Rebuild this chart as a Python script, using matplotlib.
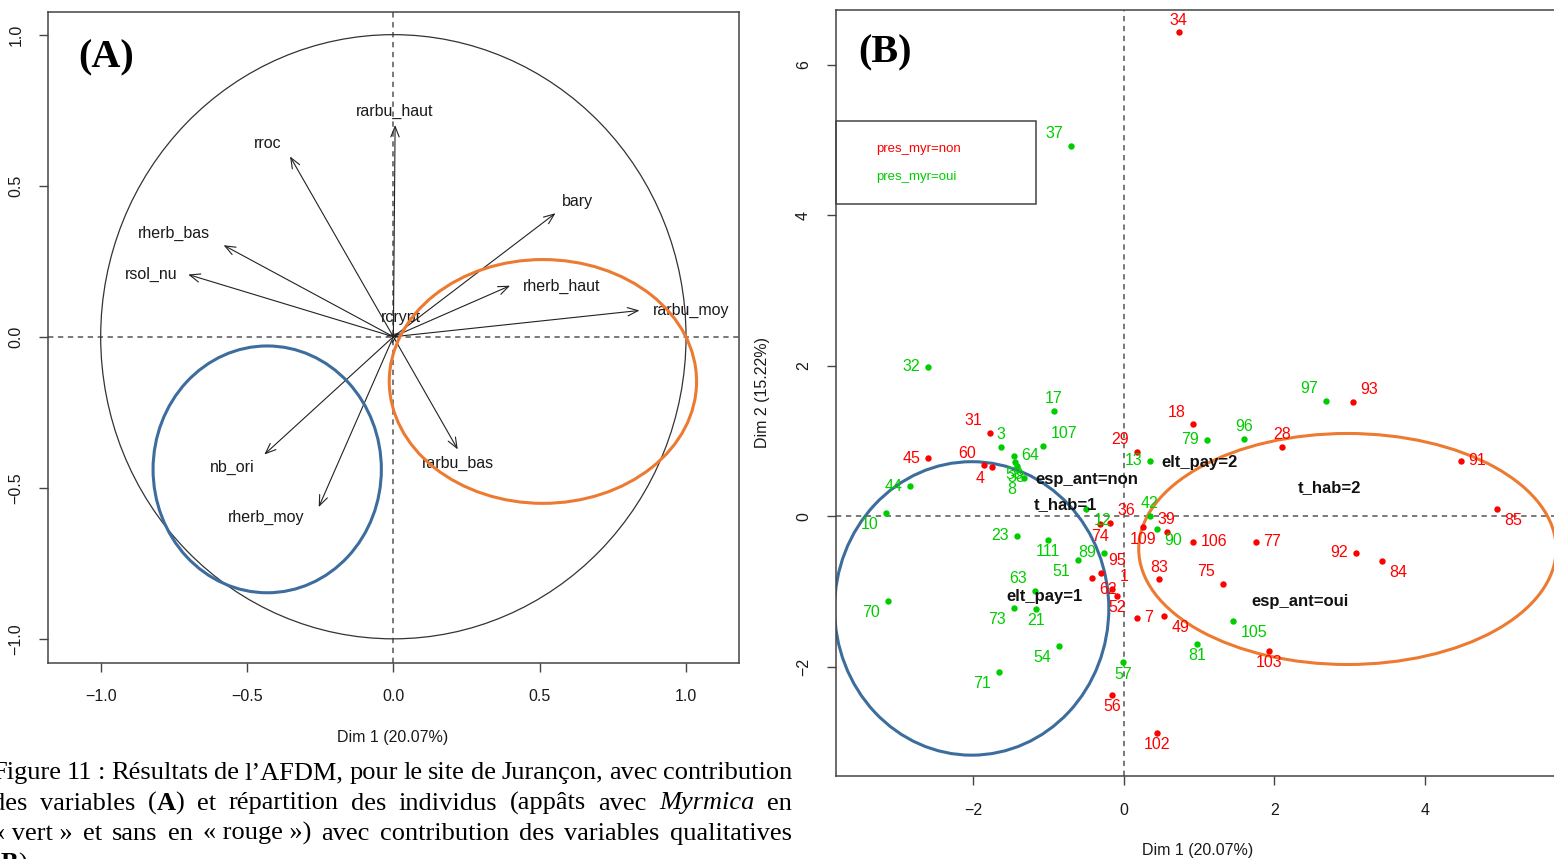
import re
import matplotlib
matplotlib.use('Agg')
import matplotlib.pyplot as plt
import matplotlib.transforms as mtransforms
from matplotlib.patches import Ellipse, Circle, Rectangle

plt.rcParams['font.family'] = ['Liberation Sans', 'DejaVu Sans']

# ---- panel A : contribution of the quantitative variables
var_names = ['rarbu_haut', 'rroc', 'rherb_bas', 'rsol_nu', 'bary', 'rherb_haut',
             'rarbu_moy', 'rcrypt', 'rarbu_bas', 'nb_ori', 'rherb_moy']
var_x = [0.006, -0.353, -0.580, -0.701, 0.554, 0.399, 0.841, 0.020, 0.220, -0.441, -0.255]
var_y = [0.701, 0.597, 0.303, 0.206, 0.409, 0.169, 0.087, 0.014, -0.373, -0.390, -0.564]

# ellipses drawn by hand on the figure: (cx, cy, width, height)
ellA_blue = (-0.431, -0.439, 0.78, 0.817)
ellA_orange = (0.511, -0.148, 1.05, 0.807)

# ---- panel B : individuals
red_ids = ['34', '31', '45', '60', '4', '29', '18', '28', '93', '91', '85', '36', '39',
           '109', '106', '77', '74', '92', '84', '95', '83', '75', '1', '62', '52', '7',
           '49', '103', '56', '102']
red_x = [0.730, -1.780, -2.603, -1.859, -1.753, 0.173, 0.916, 2.098, 3.041, 4.475, 4.953,
         -0.186, 0.571, 0.252, 0.916, 1.753, -0.319, 3.081, 3.426, -0.305, 0.465, 1.315,
         -0.159, -0.425, -0.093, 0.173, 0.531, 1.926, -0.159, 0.438]
red_y = [6.438, 1.110, 0.777, 0.684, 0.658, 0.857, 1.229, 0.924, 1.522, 0.738, 0.100,
         -0.086, -0.206, -0.140, -0.339, -0.339, -0.100, -0.485, -0.591, -0.751, -0.831,
         -0.897, -0.963, -0.817, -1.056, -1.349, -1.322, -1.787, -2.372, -2.877]

green_ids = ['37', '32', '17', '97', '96', '107', '3', '79', '64', '58', '38', '8', '13',
             '44', '42', '10', '12', '90', '23', '111', '89', '51', '63', '73', '21', '70',
             '54', '71', '57', '105', '81']
green_x = [-0.704, -2.603, -0.930, 2.683, 1.594, -1.076, -1.633, 1.102, -1.461, -1.448,
           -1.421, -1.328, 0.345, -2.842, 0.345, -3.161, -0.505, 0.438, -1.421, -1.009,
           -0.266, -0.611, -1.182, -1.461, -1.169, -3.134, -0.863, -1.660, -0.013, 1.448,
           0.969]
green_y = [4.924, 1.987, 1.402, 1.535, 1.030, 0.937, 0.924, 1.017, 0.804, 0.724, 0.671,
           0.512, 0.738, 0.405, 0.007, 0.047, 0.100, -0.166, -0.259, -0.312, -0.485,
           -0.578, -0.990, -1.216, -1.229, -1.123, -1.721, -2.066, -1.934, -1.389, -1.694]

cat_names = ['esp_ant=non', 't_hab=1', 'elt_pay=2', 't_hab=2', 'esp_ant=oui', 'elt_pay=1']
cat_x = [-0.491, -0.770, 1.009, 2.736, 2.337, -1.049]
cat_y = [0.491, 0.159, 0.717, 0.385, -1.129, -1.062]

ellB_blue = (-2.019, -1.222, 3.64, 3.90)
ellB_orange = (2.968, -0.432, 5.54, 3.07)

legend_labels = ['pres_myr=non', 'pres_myr=oui']

caption = [
    'Figure 11 : Résultats de l’AFDM, pour le site de Jurançon, avec contribution',
    'des variables (**A**) et répartition des individus (appâts avec *Myrmica* en',
    '«\u00a0vert\u00a0» et sans en «\u00a0rouge\u00a0») avec contribution des variables qualitatives',
    '(**B**).',
]

# ---- layout / style
RED = '#FF0000'
GREEN = '#00CD00'
BLUE = '#3C6D9D'
ORANGE = '#EC7A30'
AXCOL = '#444444'
W, H = 1554, 859

# label offsets for panel A (pixels)
var_lab_off = {'rarbu_haut': (0, 14), 'rroc': (-22, 13), 'rherb_bas': (-50, 12),
               'rsol_nu': (-37, 0), 'bary': (22, 12), 'rherb_haut': (51, -1),
               'rarbu_moy': (52, 0), 'rcrypt': (2, 15), 'rarbu_bas': (0, -14),
               'nb_ori': (-32, -13), 'rherb_moy': (-53, -10)}

# side of each label around its point in panel B
label_side = {
    '34': 'N', '31': 'NW', '45': 'W', '60': 'NW', '4': 'SW', '29': 'NW', '18': 'NW',
    '28': 'N', '93': 'NE', '91': 'E', '85': 'SE', '36': 'NE', '39': 'N', '109': 'S',
    '106': 'E', '77': 'E', '74': 'S', '92': 'W', '84': 'SE', '95': 'NE', '83': 'N',
    '75': 'NW', '1': 'NE', '62': 'SE', '52': 'S', '7': 'E', '49': 'SE', '103': 'S',
    '56': 'S', '102': 'S',
    '37': 'NW', '32': 'W', '17': 'N', '97': 'NW', '96': 'N', '107': 'NE', '3': 'N',
    '79': 'W', '64': 'E', '58': 'S', '38': 'S', '8': 'SW', '13': 'W', '44': 'W',
    '42': 'N', '10': 'SW', '12': 'SE', '90': 'SE', '23': 'W', '111': 'S', '89': 'W',
    '51': 'SW', '63': 'NW', '73': 'SW', '21': 'S', '70': 'SW', '54': 'SW', '71': 'SW',
    '57': 'S', '105': 'SE', '81': 'S'}
dirs = {'N': (0, 1), 'S': (0, -1), 'E': (1, 0), 'W': (-1, 0),
        'NE': (1, 1), 'NW': (-1, 1), 'SE': (1, -1), 'SW': (-1, -1)}


def style_axes(ax, xpad, ypad):
    for s in ax.spines.values():
        s.set_color(AXCOL)
        s.set_linewidth(1.1)
    ax.tick_params(direction='out', length=6.5, width=1.0, color=AXCOL,
                   labelsize=11.5, labelcolor='#1a1a1a')
    ax.tick_params(axis='x', pad=xpad)
    ax.tick_params(axis='y', pad=ypad)
    for t in ax.get_yticklabels():
        t.set_rotation(90)
        t.set_va('center')


def zero_lines(ax):
    ax.axhline(0, color='#555555', lw=1.1, dashes=(3.5, 3), zorder=1)
    ax.axvline(0, color='#555555', lw=1.1, dashes=(3.5, 3), zorder=1)


def draw_justified(fig, line, x0, x1, ybase, size, justify=True):
    r = fig.canvas.get_renderer()
    ident = mtransforms.IdentityTransform()
    words = []
    for w in line.split(' '):
        segs = []
        for part in re.split(r'(\*\*[^*]+\*\*|\*[^*]+\*)', w):
            if not part:
                continue
            kw = dict(fontsize=size, family='Liberation Serif', transform=ident,
                      va='baseline')
            if part.startswith('**'):
                segs.append(fig.text(0, ybase, part[2:-2], weight='bold', **kw))
            elif part.startswith('*'):
                segs.append(fig.text(0, ybase, part[1:-1], style='italic', **kw))
            else:
                segs.append(fig.text(0, ybase, part, **kw))
        words.append(segs)
    widths = [[t.get_window_extent(r).width for t in segs] for segs in words]
    total = sum(sum(ws) for ws in widths)
    if justify and len(words) > 1:
        gap = (x1 - x0 - total) / (len(words) - 1)
    else:
        gap = 0.25 * size * fig.dpi / 72
    x = x0
    for segs, ws in zip(words, widths):
        for t, w in zip(segs, ws):
            t.set_x(x)
            x += w
        x += gap


def main():
    fig = plt.figure(figsize=(W / 100, H / 100), dpi=100)

    # ------------- panel A
    axA = fig.add_axes([48 / W, 1 - 663 / H, 691 / W, 651 / H])
    axA.set_xlim(-1.180, 1.181)
    axA.set_ylim(-1.08, 1.075)
    zero_lines(axA)
    axA.add_patch(Circle((0, 0), 1, fill=False, ec='#333333', lw=0.9))
    for name, x, y in zip(var_names, var_x, var_y):
        axA.annotate('', xy=(x, y), xytext=(0, 0),
                     arrowprops=dict(arrowstyle='->,head_length=0.75,head_width=0.3',
                                     color='#222222', lw=0.8, shrinkA=0, shrinkB=0,
                                     mutation_scale=10))
        dx, dy = var_lab_off[name]
        axA.annotate(name, xy=(x, y), xytext=(dx, dy), textcoords='offset pixels',
                     ha='center', va='center', fontsize=11.5, color='#1a1a1a')
    for cx, cy, w, h, c in [ellA_blue + (BLUE,), ellA_orange + (ORANGE,)]:
        axA.add_patch(Ellipse((cx, cy), w, h, fill=False, ec=c, lw=2.2, zorder=4))
    axA.set_xticks([-1.0, -0.5, 0.0, 0.5, 1.0])
    axA.set_yticks([-1.0, -0.5, 0.0, 0.5, 1.0])
    axA.set_xticklabels(['\u22121.0', '\u22120.5', '0.0', '0.5', '1.0'])
    axA.set_yticklabels(['\u22121.0', '\u22120.5', '0.0', '0.5', '1.0'])
    style_axes(axA, 12, 11)
    axA.set_xlabel('Dim 1 (20.07%)', fontsize=11.5, color='#1a1a1a')
    axA.xaxis.set_label_coords(0.499, -0.103)
    axA.text(0.084, 0.929, '(A)', transform=axA.transAxes, ha='center', va='center',
             fontsize=29, weight='bold', family='Liberation Serif')

    # ------------- panel B
    axB = fig.add_axes([836 / W, 1 - 776 / H, 718 / W, 766 / H])
    axB.set_xlim(-3.82, 5.71)
    axB.set_ylim(-3.449, 6.731)
    axB.spines['right'].set_visible(False)
    zero_lines(axB)
    for cx, cy, w, h, c in [ellB_blue + (BLUE,), ellB_orange + (ORANGE,)]:
        axB.add_patch(Ellipse((cx, cy), w, h, fill=False, ec=c, lw=2.2, zorder=2))
    for ids, xs, ys, col in [(red_ids, red_x, red_y, RED), (green_ids, green_x, green_y, GREEN)]:
        axB.plot(xs, ys, 'o', color=col, ms=4.6, mew=0, zorder=3)
        for lab, x, y in zip(ids, xs, ys):
            ux, uy = dirs[label_side[lab]]
            half = 4.5 * len(lab)
            axB.annotate(lab, xy=(x, y), xytext=(ux * (half + 7.5), uy * 12),
                         textcoords='offset pixels', ha='center', va='center',
                         fontsize=11.5, color=col, zorder=3)
    for name, x, y in zip(cat_names, cat_x, cat_y):
        axB.text(x, y, name, ha='center', va='center', fontsize=12, weight='bold',
                 color='#111111', zorder=5)
    # legend box
    axB.add_patch(Rectangle((0, 0.7467), 0.2786, 0.1083, transform=axB.transAxes,
                            fill=False, ec=AXCOL, lw=1.1, clip_on=False, zorder=6))
    for lab, col, yy in zip(legend_labels, [RED, GREEN], [0.8185, 0.782]):
        axB.text(0.0557, yy, lab, transform=axB.transAxes, ha='left', va='center',
                 fontsize=9.5, color=col)
    axB.set_xticks([-2, 0, 2, 4])
    axB.set_yticks([-2, 0, 2, 4, 6])
    axB.set_xticklabels(['\u22122', '0', '2', '4'])
    axB.set_yticklabels(['\u22122', '0', '2', '4', '6'])
    style_axes(axB, 13, 11.5)
    axB.set_xlabel('Dim 1 (20.07%)', fontsize=11.5, color='#1a1a1a')
    axB.xaxis.set_label_coords(0.504, -0.0875)
    axB.set_ylabel('Dim 2 (15.22%)', fontsize=11.5, color='#1a1a1a')
    axB.yaxis.set_label_coords(-0.092, 0.5)
    axB.text(0.068, 0.944, '(B)', transform=axB.transAxes, ha='center', va='center',
             fontsize=29, weight='bold', family='Liberation Serif')

    # ------------- caption (justified, like the document)
    fig.canvas.draw()
    for i, line in enumerate(caption):
        base = H - (779 + 30.5 * i)
        draw_justified(fig, line, -8, 792, base, 19, justify=(i < len(caption) - 1))

    fig.savefig('out.png', dpi=100)


if __name__ == '__main__':
    main()
